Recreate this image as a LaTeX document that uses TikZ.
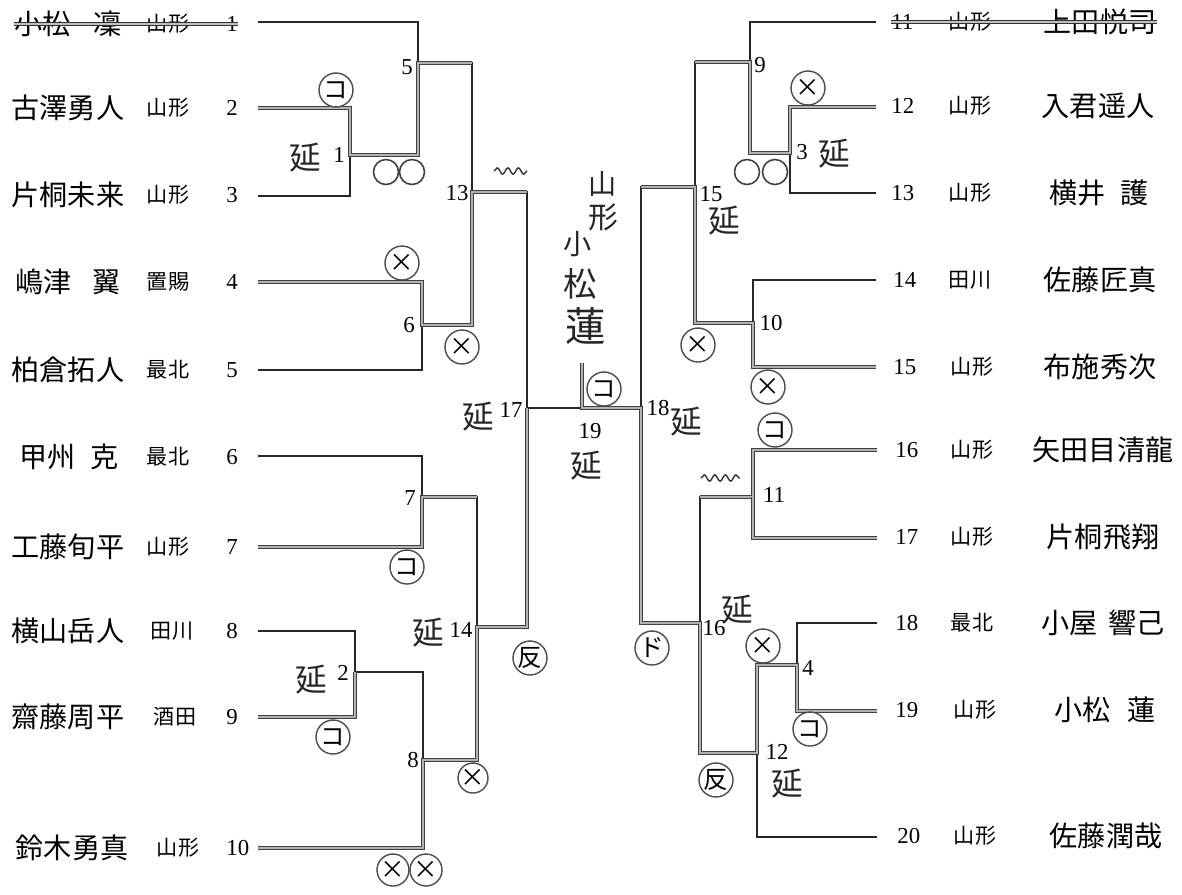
\documentclass[tikz,border=0pt]{standalone}
\usepackage{fontspec}
\setmainfont{Liberation Serif}
\newfontfamily\jp{Noto Sans CJK JP}
\usetikzlibrary{decorations.pathmorphing}
\tikzset{
  pname/.style={font=\jp\fontsize{16}{18}\selectfont,inner sep=0pt},
  pref/.style={font=\jp\fontsize{12}{14}\selectfont,inner sep=0pt},
  seed/.style={font=\fontsize{13}{15}\selectfont,inner sep=0pt},
  mno/.style={font=\fontsize{13}{15}\selectfont,inner sep=0pt},
  ln/.style={draw=black!85,line width=0.7pt},
  win/.style={draw=black!75,double=black!30,double distance=1.1pt,line width=0.45pt},
  strike/.style={draw=black!80,double=black!25,double distance=0.9pt,line width=0.5pt},
  mk/.style={circle,draw=black!70,line width=0.8pt,minimum size=0.68cm,
             inner sep=0pt,font=\jp\fontsize{14}{14}\selectfont},
  ring/.style={circle,draw=black!75,line width=0.9pt,minimum size=0.5cm,inner sep=0pt},
  nobe/.style={font=\jp\fontsize{18}{18}\selectfont,inner sep=0pt,text=black!85},
  scrib/.style={draw=black!80,line width=0.8pt,decorate,
                decoration={snake,amplitude=1.8pt,segment length=6pt}},
}

\begin{document}
\begin{tikzpicture}[x=0.02cm,y=-0.02cm]

  \useasboundingbox (0,0) rectangle (1182,894);
  \fill[white] (0,0) rectangle (1182,894);

  %% ── left players ─────────────────────────────────────────────────────────
  \node[pname] (nm1)  at (68,24)  {小松\hspace{0.8em}凜};  \node[pref] (pf1)  at (168,24)  {山形};
  \node[seed,anchor=west] (no1)  at (226,24)  {1};  \coordinate (p1)  at (258,22);
  \node[pname] (nm2)  at (68,108) {古澤勇人};  \node[pref] (pf2)  at (168,108) {山形};
  \node[seed,anchor=west] (no2)  at (226,108) {2};  \coordinate (p2)  at (258,108);
  \node[pname] (nm3)  at (68,195) {片桐未来};  \node[pref] (pf3)  at (168,195) {山形};
  \node[seed,anchor=west] (no3)  at (226,195) {3};  \coordinate (p3)  at (258,196);
  \node[pname] (nm4)  at (68,282) {嶋津\hspace{0.75em}翼};  \node[pref] (pf4)  at (168,282) {置賜};
  \node[seed,anchor=west] (no4)  at (226,282) {4};  \coordinate (p4)  at (258,282);
  \node[pname] (nm5)  at (68,370) {柏倉拓人};  \node[pref] (pf5)  at (168,370) {最北};
  \node[seed,anchor=west] (no5)  at (226,370) {5};  \coordinate (p5)  at (258,370);
  \node[pname] (nm6)  at (69,457) {甲州\hspace{0.55em}克};  \node[pref] (pf6)  at (168,457) {最北};
  \node[seed,anchor=west] (no6)  at (226,457) {6};  \coordinate (p6)  at (258,456);
  \node[pname] (nm7)  at (68,547) {工藤旬平};  \node[pref] (pf7)  at (168,547) {山形};
  \node[seed,anchor=west] (no7)  at (226,547) {7};  \coordinate (p7)  at (258,547);
  \node[pname] (nm8)  at (68,631) {横山岳人};  \node[pref] (pf8)  at (172,631) {田川};
  \node[seed,anchor=west] (no8)  at (226,631) {8};  \coordinate (p8)  at (258,631);
  \node[pname] (nm9)  at (68,717) {齋藤周平};  \node[pref] (pf9)  at (175,717) {酒田};
  \node[seed,anchor=west] (no9)  at (226,717) {9};  \coordinate (p9)  at (258,717);
  \node[pname] (nm10) at (72,848) {鈴木勇真};  \node[pref] (pf10) at (178,848) {山形};
  \node[seed,anchor=west] (no10) at (226,848) {10}; \coordinate (p10) at (258,848);

  %% ── right players ────────────────────────────────────────────────────────
  \node[seed,anchor=west] (no11) at (891,22)  {11}; \node[pref] (pf11) at (970,22)  {山形};
  \node[pname] (nm11) at (1100,22)  {上田悦司};  \coordinate (p11) at (876,22);
  \node[seed,anchor=west] (no12) at (891,106) {12}; \node[pref] (pf12) at (970,106) {山形};
  \node[pname] (nm12) at (1098,106) {入君遥人};  \coordinate (p12) at (876,107);
  \node[seed,anchor=west] (no13) at (891,193) {13}; \node[pref] (pf13) at (970,193) {山形};
  \node[pname] (nm13) at (1099,193) {横井\hspace{0.55em}護};  \coordinate (p13) at (876,193);
  \node[seed,anchor=west] (no14) at (893,280) {14}; \node[pref] (pf14) at (970,280) {田川};
  \node[pname] (nm14) at (1100,280) {佐藤匠真};  \coordinate (p14) at (876,280);
  \node[seed,anchor=west] (no15) at (893,367) {15}; \node[pref] (pf15) at (972,367) {山形};
  \node[pname] (nm15) at (1100,367) {布施秀次};  \coordinate (p15) at (876,367);
  \node[seed,anchor=west] (no16) at (895,450) {16}; \node[pref] (pf16) at (972,450) {山形};
  \node[pname] (nm16) at (1103,450) {矢田目清龍}; \coordinate (p16) at (877,450);
  \node[seed,anchor=west] (no17) at (895,537) {17}; \node[pref] (pf17) at (972,537) {山形};
  \node[pname] (nm17) at (1103,537) {片桐飛翔};  \coordinate (p17) at (877,538);
  \node[seed,anchor=west] (no18) at (895,623) {18}; \node[pref] (pf18) at (972,623) {最北};
  \node[pname] (nm18) at (1103,623) {小屋\hspace{0.4em}響己}; \coordinate (p18) at (877,623);
  \node[seed,anchor=west] (no19) at (895,710) {19}; \node[pref] (pf19) at (975,710) {山形};
  \node[pname] (nm19) at (1105,710) {小松\hspace{0.6em}蓮};  \coordinate (p19) at (877,711);
  \node[seed,anchor=west] (no20) at (897,836) {20}; \node[pref] (pf20) at (975,836) {山形};
  \node[pname] (nm20) at (1106,836) {佐藤潤哉};  \coordinate (p20) at (877,837);

  %% ── withdrawn entries ────────────────────────────────────────────────────
  \draw[strike] (nm1.west) -- (nm1.west -| no1.east);
  \draw[strike] (no11.west) -- (no11.west -| nm11.east);

  %% ── match points ─────────────────────────────────────────────────────────
  \coordinate (m1)  at (350,155);  \coordinate (m5)  at (418,63);
  \coordinate (m6)  at (422,325);  \coordinate (m13) at (472,192);
  \coordinate (m7)  at (422,497);  \coordinate (m2)  at (355,672);
  \coordinate (m8)  at (423,760);  \coordinate (m14) at (477,627);
  \coordinate (m17) at (527,408);  \coordinate (m19) at (582,408);
  \coordinate (m19t) at (582,363);
  \coordinate (m9)  at (750,62);   \coordinate (m3)  at (790,153);
  \coordinate (m10) at (753,323);  \coordinate (m15) at (695,187);
  \coordinate (m11) at (753,497);  \coordinate (m4)  at (797,665);
  \coordinate (m12) at (757,753);  \coordinate (m16) at (700,623);
  \coordinate (m18) at (641,408);

  %% ── bracket lines ────────────────────────────────────────────────────────
  \draw[ln] (p1) -| (m5) (p2) -| (m1) (p3) -| (m1) (m1) -| (m5)
            (p4) -| (m6) (p5) -| (m6) (m5) -| (m13) (m6) -| (m13) (m13) -| (m17);
  \draw[ln] (p6) -| (m7) (p7) -| (m7) (p8) -| (m2) (p9) -| (m2) (m2) -| (m8)
            (p10) -| (m8) (m7) -| (m14) (m8) -| (m14) (m14) -| (m17);
  \draw[ln] (p11) -| (m9) (p12) -| (m3) (p13) -| (m3) (m3) -| (m9)
            (p14) -| (m10) (p15) -| (m10) (m9) -| (m15) (m10) -| (m15) (m15) -| (m18);
  \draw[ln] (p16) -| (m11) (p17) -| (m11) (p18) -| (m4) (p19) -| (m4) (m4) -| (m12)
            (p20) -| (m12) (m11) -| (m16) (m12) -| (m16) (m16) -| (m18);
  \draw[ln] (m17) -- (m19) -- (m18) (m19) -- (m19t);

  %% ── winners (marked over) ────────────────────────────────────────────────
  \draw[win] (p2) -| (m1) -| (m5) -- (m5 -| m13);
  \draw[win] (p4) -| (m6) -| (m13) -- (m13 -| m17);
  \draw[win] (p7) -| (m7) -- (m7 -| m14);
  \draw[win] (p9) -| (m2);
  \draw[win] (p10) -| (m8) -| (m14) -| (m17);
  \draw[win] (p12) -| (m3) -| (m9) -- (m9 -| m15);
  \draw[win] (p15) -| (m10) -| (m15) -- (m15 -| m18);
  \draw[win] (p16) -| (m11) -- (m11 -| m16);
  \draw[win] (p17) -| (m11);
  \draw[win] (p19) -| (m4) -| (m12) -| (m16) -| (m18) -- (m19) -- (m19t);

  %% ── match numbers ────────────────────────────────────────────────────────
  \node[mno] (l1)  at (339,155) {1};   \node[mno] (l5)  at (407,67)  {5};
  \node[mno] (l13) at (457,193) {13};  \node[mno] (l6)  at (409,325) {6};
  \node[mno] (l17) at (511,410) {17};  \node[mno] (l7)  at (410,498) {7};
  \node[mno] (l14) at (461,630) {14};  \node[mno] (l2)  at (343,673) {2};
  \node[mno] (l8)  at (413,760) {8};   \node[mno] (l19) at (590,431) {19};
  \node[mno] (l9)  at (760,65)  {9};   \node[mno] (l3)  at (802,152) {3};
  \node[mno] (l15) at (711,194) {15};  \node[mno] (l10) at (771,323) {10};
  \node[mno] (l18) at (658,408) {18};  \node[mno] (l11) at (774,495) {11};
  \node[mno] (l16) at (714,628) {16};  \node[mno] (l4)  at (808,668) {4};
  \node[mno] (l12) at (777,752) {12};

  %% ── hand marks, left ─────────────────────────────────────────────────────
  \node[mk] (k1) at (336,90)  {コ};
  \node[nobe] (e1) at (305,158) {延};
  \node[ring] (o1) at (386,172) {};  \node[ring] (o2) at (412,172) {};
  \node[mk] (x1) at (402,263) {×};
  \node[mk] (x2) at (462,347) {×};
  \coordinate (s1a) at (494,171);    \coordinate (s1b) at (527,171);
  \draw[scrib] (s1a) -- (s1b);
  \node[nobe] (e17) at (478,417) {延};
  \node[nobe] (e19) at (586,466) {延};
  \node[mk] (k2) at (407,567) {コ};
  \node[nobe] (e14) at (428,633) {延};
  \node[mk] (h1) at (530,658) {反};
  \node[nobe] (e2) at (311,680) {延};
  \node[mk] (k3) at (333,737) {コ};
  \node[mk,minimum size=0.6cm] (x3) at (473,778) {×};
  \node[mk,minimum size=0.64cm] (x4) at (393,870) {×};
  \node[mk,minimum size=0.64cm] (x5) at (426,870) {×};

  %% ── hand marks, right ────────────────────────────────────────────────────
  \node[mk] (x6) at (808,88) {×};
  \node[nobe] (e3) at (834,154) {延};
  \node[ring] (o3) at (747,172) {};  \node[ring] (o4) at (775,172) {};
  \node[nobe] (e15) at (724,221) {延};
  \node[mk] (x7) at (698,345) {×};
  \node[mk] (x8) at (768,387) {×};
  \node[mk] (k4) at (604,389) {コ};
  \node[nobe] (e18) at (686,422) {延};
  \node[mk] (k5) at (775,430) {コ};
  \coordinate (s2a) at (701,478);    \coordinate (s2b) at (740,478);
  \draw[scrib] (s2a) -- (s2b);
  \node[nobe] (e16) at (737,610) {延};
  \node[mk] (x9) at (763,646) {×};
  \node[mk] (d1) at (652,648) {ド};
  \node[mk] (k6) at (810,729) {コ};
  \node[mk] (h2) at (716,780) {反};
  \node[nobe] (e12) at (787,784) {延};

  %% ── champion ─────────────────────────────────────────────────────────────
  \node[nobe,font=\jp\fontsize{16}{16}\selectfont] (ch1) at (603,184) {山};
  \node[nobe,font=\jp\fontsize{17}{17}\selectfont] (ch2) at (603,217) {形};
  \node[nobe,font=\jp\fontsize{16}{16}\selectfont] (ch3) at (578,244) {小};
  \node[nobe,font=\jp\fontsize{19}{19}\selectfont] (ch4) at (580,284) {松};
  \node[nobe,font=\jp\fontsize{23}{23}\selectfont] (ch5) at (586,326) {蓮};

\end{tikzpicture}
\end{document}
